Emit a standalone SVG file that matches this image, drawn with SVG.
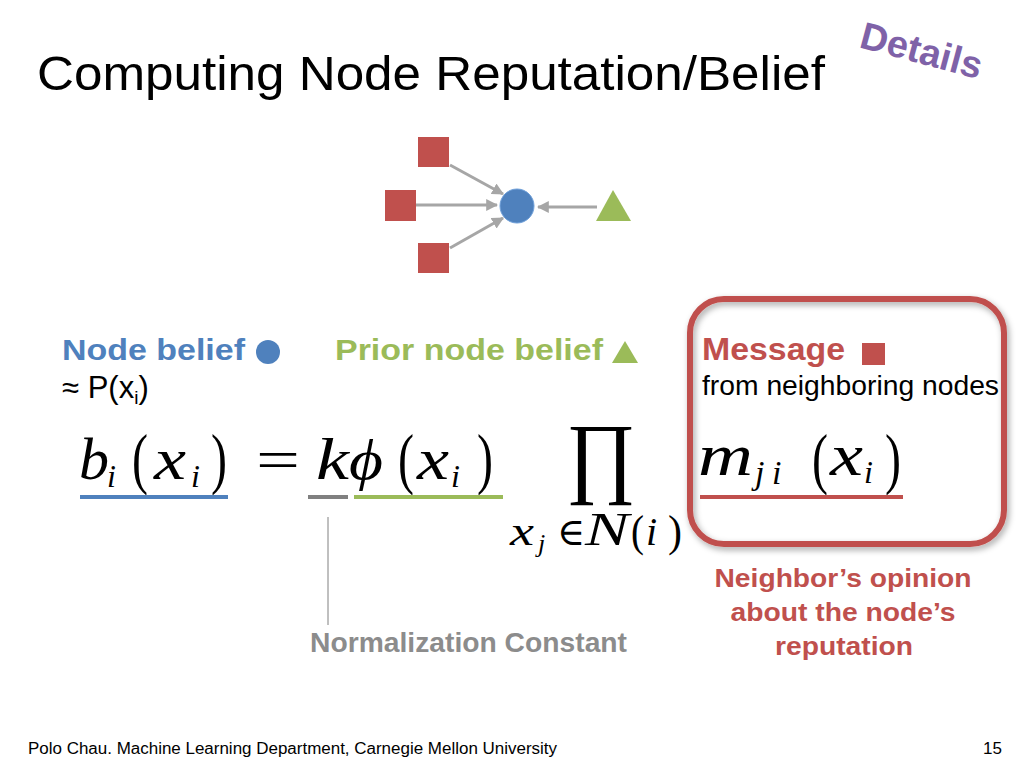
<svg xmlns="http://www.w3.org/2000/svg" width="1024" height="768" viewBox="0 0 1024 768">
<style>
.sans{font-family:"Liberation Sans",Arial,sans-serif}
.b{font-weight:bold}
.mi{font-family:"Liberation Serif","DejaVu Serif",serif;font-style:italic;fill:#000}
.mr{font-family:"Liberation Serif","DejaVu Serif",serif;fill:#000}
.sq{fill:#C0504D}
.edge{stroke:#A6A6A6;stroke-width:3;fill:none;marker-end:url(#ah)}
</style>
<defs>
<marker id="ah" viewBox="0 0 10 10" refX="9" refY="5" markerWidth="4" markerHeight="4" orient="auto" markerUnits="strokeWidth">
<path d="M0,0 L10,5 L0,10 z" fill="#A6A6A6"/>
</marker>
<filter id="sh" x="-10%" y="-10%" width="120%" height="120%">
<feDropShadow dx="2" dy="3" stdDeviation="3" flood-color="#000" flood-opacity="0.35"/>
</filter>
</defs>
<rect width="1024" height="768" fill="#fff"/>
<text class="sans" x="37" y="90" font-size="48" fill="#000" textLength="788" lengthAdjust="spacingAndGlyphs">Computing Node Reputation/Belief</text>
<text class="sans b" x="858" y="47" font-size="38" fill="#7F62A8" transform="rotate(15 858 47)">Details</text>

<g id="connectors">
<line class="edge" x1="450" y1="165" x2="503" y2="194"/>
<line class="edge" x1="416" y1="205" x2="497" y2="205"/>
<line class="edge" x1="450" y1="248" x2="503" y2="218"/>
<line class="edge" x1="597" y1="207" x2="538" y2="207"/>
</g>
<g id="n-top"><rect class="sq" x="418" y="137" width="31" height="30"/></g>
<g id="n-left"><rect class="sq" x="385" y="190" width="31" height="31"/></g>
<g id="n-bottom"><rect class="sq" x="418" y="243" width="31" height="30"/></g>
<g id="n-center"><circle cx="517" cy="206" r="17" fill="#4F81BD" stroke="#6FA0DA" stroke-width="1"/></g>
<g id="n-prior"><polygon points="613,190 631,221 596,221" fill="#9BBB59"/></g>

<g id="box"><rect x="690" y="299" width="314" height="245" rx="34" fill="none" stroke="#C0504D" stroke-width="6" filter="url(#sh)"/></g>

<g id="labels">
<text class="sans b" x="62" y="360" font-size="30" fill="#4F81BD" textLength="183" lengthAdjust="spacingAndGlyphs">Node belief</text>
<circle cx="268" cy="352" r="12" fill="#4F81BD"/>
<text class="sans" x="62" y="398" font-size="31" fill="#000">≈ P(x<tspan font-size="19" dy="6">i</tspan><tspan dy="-6">)</tspan></text>
<text class="sans b" x="335" y="360" font-size="30" fill="#9BBB59" textLength="268" lengthAdjust="spacingAndGlyphs">Prior node belief</text>
<polygon points="625,341 638,363 612,363" fill="#9BBB59"/>
<text class="sans b" x="702" y="360" font-size="32" fill="#C0504D" textLength="143" lengthAdjust="spacingAndGlyphs">Message</text>
<rect x="862" y="343" width="23" height="22" fill="#C0504D"/>
<text class="sans" x="702" y="395" font-size="27" fill="#000" textLength="297" lengthAdjust="spacingAndGlyphs">from neighboring nodes</text>
</g>

<g id="formula">
<text class="mi" x="79" y="479" font-size="60">b</text>
<text class="mi" x="107" y="487" font-size="32">i</text>
<text class="mr" x="132" y="481" font-size="68" textLength="16" lengthAdjust="spacingAndGlyphs">(</text>
<text class="mi" x="154" y="479" font-size="60" textLength="32" lengthAdjust="spacingAndGlyphs">x</text>
<text class="mi" x="191" y="487" font-size="32">i</text>
<text class="mr" x="211" y="481" font-size="68" textLength="16" lengthAdjust="spacingAndGlyphs">)</text>
<text class="mr" x="256" y="479" font-size="58" textLength="44" lengthAdjust="spacingAndGlyphs">=</text>
<text class="mi" x="316" y="479" font-size="60" textLength="33" lengthAdjust="spacingAndGlyphs">k</text>
<text class="mi" x="349" y="479" font-size="58" textLength="34" lengthAdjust="spacingAndGlyphs">ϕ</text>
<text class="mr" x="398" y="481" font-size="68" textLength="16" lengthAdjust="spacingAndGlyphs">(</text>
<text class="mi" x="417" y="479" font-size="60" textLength="32" lengthAdjust="spacingAndGlyphs">x</text>
<text class="mi" x="451" y="487" font-size="32">i</text>
<text class="mr" x="477" y="481" font-size="68" textLength="16" lengthAdjust="spacingAndGlyphs">)</text>

<text class="mr" x="566" y="486" font-size="90" textLength="70" lengthAdjust="spacingAndGlyphs">∏</text>
<text class="mi" x="510" y="545" font-size="40" textLength="24" lengthAdjust="spacingAndGlyphs">x</text>
<text class="mi" x="538" y="552" font-size="26">j</text>
<text class="mr" x="557" y="545" font-size="38">∈</text>
<text class="mi" x="585" y="545" font-size="46" textLength="44" lengthAdjust="spacingAndGlyphs">N</text>
<text class="mr" x="631" y="546" font-size="44" textLength="13" lengthAdjust="spacingAndGlyphs">(</text>
<text class="mi" x="646" y="545" font-size="40">i</text>
<text class="mr" x="668" y="546" font-size="44" textLength="14" lengthAdjust="spacingAndGlyphs">)</text>

<text class="mi" x="698" y="475" font-size="60" textLength="55" lengthAdjust="spacingAndGlyphs">m</text>
<text class="mi" x="755" y="484" font-size="34">j</text>
<text class="mi" x="772" y="484" font-size="34">i</text>
<text class="mr" x="812" y="481" font-size="68" textLength="16" lengthAdjust="spacingAndGlyphs">(</text>
<text class="mi" x="830" y="475" font-size="60" textLength="33" lengthAdjust="spacingAndGlyphs">x</text>
<text class="mi" x="864" y="483" font-size="32">i</text>
<text class="mr" x="885" y="481" font-size="68" textLength="16" lengthAdjust="spacingAndGlyphs">)</text>

<rect x="80" y="495" width="148" height="4" fill="#4F81BD"/>
<rect x="308" y="495" width="40" height="4" fill="#808080"/>
<rect x="354" y="495" width="149" height="4" fill="#9BBB59"/>
<rect x="700" y="495" width="203" height="4" fill="#C0504D"/>
<line x1="328" y1="517" x2="328" y2="625" stroke="#808080" stroke-width="1"/>
</g>

<text class="sans b" x="310" y="652" font-size="27" fill="#8C8C8C" textLength="317" lengthAdjust="spacingAndGlyphs">Normalization Constant</text>
<g class="sans b" font-size="26" fill="#C0504D" text-anchor="middle">
<text x="843" y="587" textLength="257" lengthAdjust="spacingAndGlyphs">Neighbor’s opinion</text>
<text x="843" y="621" textLength="225" lengthAdjust="spacingAndGlyphs">about the node’s</text>
<text x="844" y="655" textLength="138" lengthAdjust="spacingAndGlyphs">reputation</text>
</g>
<text class="sans" x="28" y="754" font-size="16" fill="#000" textLength="529" lengthAdjust="spacingAndGlyphs">Polo Chau. Machine Learning Department, Carnegie Mellon University</text>
<text class="sans" x="1002" y="754" font-size="17" fill="#000" text-anchor="end">15</text>
</svg>
